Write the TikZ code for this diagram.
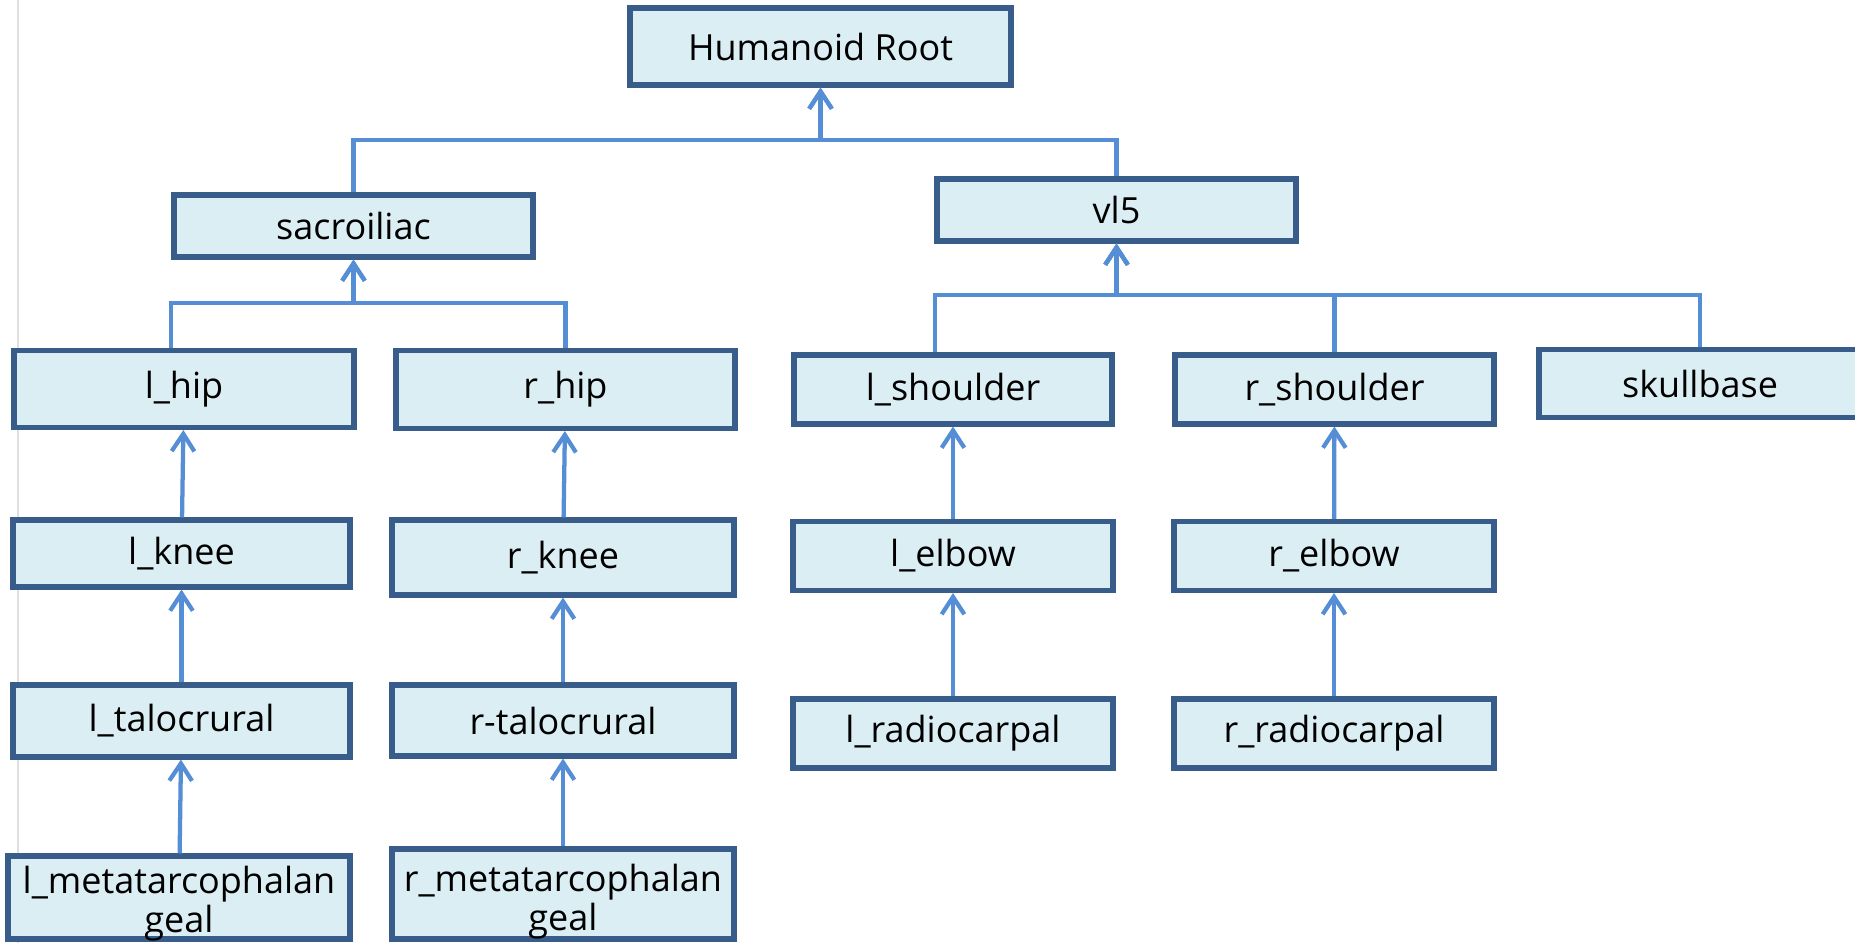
\documentclass[tikz,border=0pt]{standalone}
\usepackage{fontspec}
\setmainfont{Open Sans}
\usetikzlibrary{arrows.meta, calc}

\definecolor{jointfill}{HTML}{DBEEF4}
\definecolor{jointline}{HTML}{385D8A}
\definecolor{linkblue}{HTML}{558ED5}

\tikzset{boxsize/.style 2 args={minimum width=#1*0.75pt, minimum height=#2*0.75pt}}

\begin{document}
\begin{tikzpicture}[x=0.75pt, y=-0.75pt, >={Straight Barb[length=13pt, width=17pt]}]
    \tikzstyle{joint} = [draw=jointline, line width=3.8pt, fill=jointfill, rectangle, align=center, inner sep=0pt, font=\fontsize{27}{29}\selectfont]
    \tikzstyle{link} = [->, draw=linkblue, line width=3.2pt]

    \useasboundingbox (0,0) rectangle (1855,943);
    \draw[gray!25, line width=1.5pt] (18,0) -- (18,943);

    % root and spine
    \node[joint, boxsize={381}{77}] (root) at (820.5, 46.5) {Humanoid Root};
    \node[joint, boxsize={359}{62}] (sacroiliac) at (353.5, 226) {sacroiliac};
    \node[joint, boxsize={359}{62}] (vl5) at (1116.5, 210) {vl5};

    % legs
    \node[joint, boxsize={340}{77}] (l_hip) at (184, 389) {l\_hip};
    \node[joint, boxsize={339}{78}] (r_hip) at (565.5, 389.5) {r\_hip};
    \node[joint, boxsize={337}{67}] (l_knee) at (181.5, 553.5) {l\_knee};
    \node[joint, boxsize={342}{75}] (r_knee) at (563, 557.5) {r\_knee};
    \node[joint, boxsize={337}{72}] (l_talocrural) at (181.5, 721) {l\_talocrural};
    \node[joint, boxsize={342}{71}] (r_talocrural) at (563, 720.5) {r-talocrural};
    \node[joint, boxsize={342}{83}, text height=51.75pt, text depth=0pt] (l_meta) at (179, 897.5) {l\_metatarcophalan\\geal};
    \node[joint, boxsize={342}{90}, text height=54pt, text depth=0pt] (r_meta) at (563, 894) {r\_metatarcophalan\\geal};

    % arms and head
    \node[joint, boxsize={318}{69}] (l_shoulder) at (953, 389.5) {l\_shoulder};
    \node[joint, boxsize={319}{69}] (r_shoulder) at (1334.5, 389.5) {r\_shoulder};
    \node[joint, boxsize={322}{68}] (skullbase) at (1700, 383.5) {skullbase};
    \node[joint, boxsize={320}{69}] (l_elbow) at (953, 556) {l\_elbow};
    \node[joint, boxsize={320}{69}] (r_elbow) at (1334, 556) {r\_elbow};
    \node[joint, boxsize={320}{69}] (l_radiocarpal) at (953, 733.5) {l\_radiocarpal};
    \node[joint, boxsize={320}{69}] (r_radiocarpal) at (1334, 733.5) {r\_radiocarpal};

    % elbow connectors
    \coordinate (rootj) at (820.5, 140);
    \coordinate (sacj) at (353.5, 303);
    \coordinate (vl5j) at (1116.5, 295);
    \draw[link] (sacroiliac.north) |- (rootj) -- (root);
    \draw[link] (vl5.north) |- (rootj) -- (root);
    \draw[link] ($(l_hip.north)+(-13,0)$) |- (sacj) -- (sacroiliac);
    \draw[link] (r_hip.north) |- (sacj) -- (sacroiliac);
    \draw[link] ($(l_shoulder.north)+(-18,0)$) |- (vl5j) -- (vl5);
    \draw[link] (r_shoulder.north) |- (vl5j) -- (vl5);
    \draw[link] (skullbase.north) |- (vl5j) -- (vl5);

    % straight chains
    \draw[link] (l_knee) -- (l_hip);
    \draw[link] (l_talocrural) -- (l_knee);
    \draw[link] (l_meta) -- (l_talocrural);
    \draw[link] (r_knee) -- (r_hip);
    \draw[link] (r_talocrural) -- (r_knee);
    \draw[link] (r_meta) -- (r_talocrural);
    \draw[link] (l_elbow) -- (l_shoulder);
    \draw[link] (l_radiocarpal) -- (l_elbow);
    \draw[link] (r_elbow) -- (r_shoulder);
    \draw[link] (r_radiocarpal) -- (r_elbow);
\end{tikzpicture}
\end{document}
